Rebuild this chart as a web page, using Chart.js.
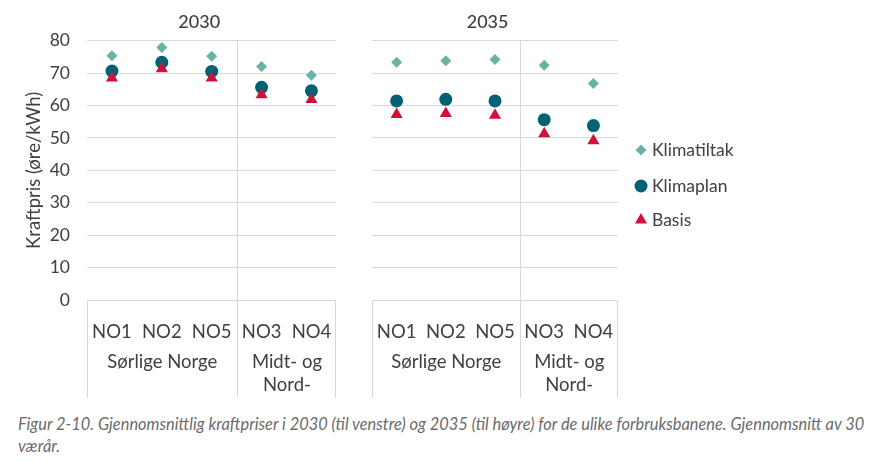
<!DOCTYPE html>
<html>
<head>
<meta charset="utf-8">
<script src="https://cdn.jsdelivr.net/npm/chart.js@4"></script>
<style>
  body { margin: 0; background: #fff; width: 886px; height: 462px; overflow: hidden; position: relative; font-family: Lato, "Open Sans", sans-serif; }
  #left { position: absolute; left: 0; top: 0; }
  #right { position: absolute; left: 345px; top: 0; }
  #caption { position: absolute; left: 18px; top: 413px; font-size: 16.4px; font-style: italic; color: #6b6b6b; line-height: 22px; white-space: nowrap; }
</style>
</head>
<body>
<canvas id="left" width="345" height="400"></canvas>
<canvas id="right" width="541" height="400"></canvas>
<div id="caption">Figur 2-10. Gjennomsnittlig kraftpriser i 2030 (til venstre) og 2035 (til høyre) for de ulike forbruksbanene. Gjennomsnitt av 30<br>værår.</div>
<script>
const regions = ["NO1", "NO2", "NO5", "NO3", "NO4"];
const groups = [["Sørlige Norge"], ["Midt- og", "Nord-"]];
const yTicks = [0, 10, 20, 30, 40, 50, 60, 70, 80];

const klimatiltak2030 = [75.3, 77.9, 75.2, 72.0, 69.3];
const klimaplan2030 = [70.6, 73.3, 70.5, 65.6, 64.5];
const basis2030 = [68.5, 71.3, 68.5, 63.3, 61.8];

const klimatiltak2035 = [73.3, 73.8, 74.2, 72.4, 66.8];
const klimaplan2035 = [61.4, 61.9, 61.4, 55.6, 53.8];
const basis2035 = [57.2, 57.5, 57.0, 51.3, 49.1];

const seriesNames = ["Klimatiltak", "Klimaplan", "Basis"];
const seriesColors = ["#68b3a6", "#006273", "#d2103c"];
const seriesShapes = ["rectRot", "circle", "triangle"];
const seriesRadius = [5.5, 6.5, 7];

const textColor = "#404040";
const gridColor = "#d9d9d9";
const fontFamily = "Lato, 'Open Sans', sans-serif";

// draws the panel title, the group box under the x axis and the divider line
const groupPlugin = {
    id: "groups",
    afterDraw(chart) {
        const ctx = chart.ctx;
        const x = chart.scales.x;
        const area = chart.chartArea;
        const bottom = 398;
        const half = (x.getPixelForValue(1) - x.getPixelForValue(0)) / 2;
        const divider = Math.round(x.getPixelForValue(3) - half) + 0.5;
        ctx.save();
        ctx.strokeStyle = gridColor;
        ctx.lineWidth = 1;
        ctx.beginPath();
        ctx.moveTo(divider, area.top);
        ctx.lineTo(divider, bottom);
        ctx.moveTo(Math.round(area.left) + 0.5, area.bottom);
        ctx.lineTo(Math.round(area.left) + 0.5, bottom);
        ctx.moveTo(Math.round(area.right) - 0.5, area.bottom);
        ctx.lineTo(Math.round(area.right) - 0.5, bottom);
        ctx.stroke();

        ctx.fillStyle = textColor;
        ctx.font = "18.5px " + fontFamily;
        ctx.textAlign = "center";
        ctx.textBaseline = "middle";
        const c1 = (area.left + divider) / 2;
        const c2 = (divider + area.right) / 2;
        [c1, c2].forEach((cx, i) => {
            groups[i].forEach((line, j) => {
                ctx.fillText(line, cx, 362 + j * 23);
            });
        });

        // panel title
        const opts = chart.options.plugins.groups;
        const tb = chart.titleBlock;
        ctx.font = "500 18px " + fontFamily;
        ctx.fillText(opts.title, area.left + opts.titleAt * (area.right - area.left), tb.top + tb.height / 2 + 2);
        ctx.restore();
    }
};

// legend on the right hand side
const legendPlugin = {
    id: "sideLegend",
    afterDraw(chart) {
        if (!chart.options.plugins.sideLegend.show) return;
        const ctx = chart.ctx;
        const lx = chart.chartArea.right + 23;
        const ys = [150, 186, 220];
        ctx.save();
        seriesNames.forEach((name, i) => {
            ctx.fillStyle = seriesColors[i];
            ctx.strokeStyle = seriesColors[i];
            Chart.helpers.drawPoint(ctx, {
                pointStyle: seriesShapes[i],
                radius: seriesRadius[i],
                rotation: 0,
                borderWidth: 0
            }, lx, ys[i]);
            ctx.fillStyle = textColor;
            ctx.font = "17.5px " + fontFamily;
            ctx.textAlign = "left";
            ctx.textBaseline = "middle";
            ctx.fillText(name, lx + 11, ys[i]);
        });
        ctx.restore();
    }
};

const makeDatasets = (values) => values.map((data, i) => ({
    label: seriesNames[i],
    data: data,
    showLine: false,
    pointStyle: seriesShapes[i],
    pointRadius: seriesRadius[i],
    pointHoverRadius: seriesRadius[i],
    backgroundColor: seriesColors[i],
    borderColor: seriesColors[i],
    pointBorderWidth: 0
}));

const createConfig = (title, titleAt, values, showY, padding, showLegend) => ({
    type: "line",
    data: {
        labels: regions,
        datasets: makeDatasets(values).reverse()
    },
    options: {
        responsive: false,
        animation: false,
        layout: { padding: padding },
        plugins: {
            legend: { display: false },
            tooltip: { enabled: false },
            sideLegend: { show: showLegend },
            groups: { title: title, titleAt: titleAt },
            // title kept for spacing only, text is drawn by the groups plugin
            title: {
                display: true,
                text: title,
                color: "rgba(0,0,0,0)",
                font: { family: fontFamily, size: 18, weight: "500" },
                padding: { top: 7, bottom: 12 }
            }
        },
        scales: {
            x: {
                offset: true,
                grid: { display: false },
                border: { display: false },
                ticks: {
                    color: textColor,
                    font: { family: fontFamily, size: 18.5 },
                    padding: 13,
                    maxRotation: 0,
                    autoSkip: false
                },
                afterFit: (scale) => { scale.height = 100; }
            },
            y: {
                min: 0,
                max: 80,
                afterBuildTicks: (scale) => { scale.ticks = yTicks.map(v => ({ value: v })); },
                grid: { color: gridColor, drawTicks: false },
                border: { display: false },
                ticks: {
                    display: showY,
                    color: textColor,
                    font: { family: fontFamily, size: 17.5 },
                    padding: 17
                },
                title: {
                    display: showY,
                    text: "Kraftpris (øre/kWh)",
                    color: textColor,
                    font: { family: fontFamily, size: 18.5 },
                    padding: 0
                },
                afterFit: (scale) => { scale.width = showY ? 64 : 27; }
            }
        }
    },
    plugins: [groupPlugin, legendPlugin]
});

new Chart(document.getElementById("left"),
    createConfig("2030", 0.45, [klimatiltak2030, klimaplan2030, basis2030], true, { left: 23, right: 4, top: 0, bottom: 0 }, false));
new Chart(document.getElementById("right"),
    createConfig("2035", 0.47, [klimatiltak2035, klimaplan2035, basis2035], false, { left: 0, right: 268, top: 0, bottom: 0 }, true));
</script>
</body>
</html>
